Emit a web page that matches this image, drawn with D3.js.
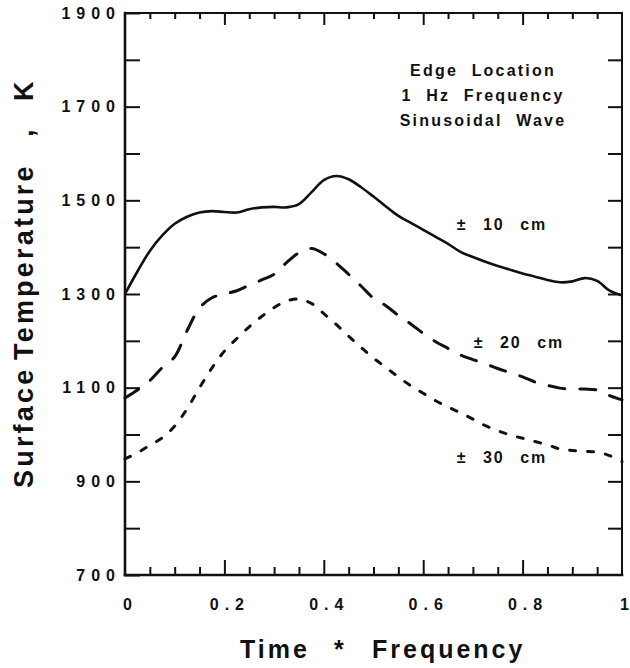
<!DOCTYPE html>
<html>
<head>
<meta charset="utf-8">
<script src="https://cdn.jsdelivr.net/npm/d3@7"></script>
<style>
  body { margin: 0; background: #fff; }
  text { font-family: "Liberation Sans", Arial, Helvetica, sans-serif; font-weight: bold; fill: #111; }
</style>
</head>
<body>
<svg id="chart" width="630" height="668"></svg>
<script>
// Time * Frequency sample points shared by the three curves
const timeFreq = [0, 0.025, 0.05, 0.075, 0.1, 0.125, 0.15, 0.175, 0.2, 0.225,
  0.25, 0.275, 0.3, 0.325, 0.35, 0.375, 0.4, 0.425, 0.45, 0.475,
  0.5, 0.525, 0.55, 0.575, 0.6, 0.625, 0.65, 0.675, 0.7, 0.725,
  0.75, 0.775, 0.8, 0.825, 0.85, 0.875, 0.9, 0.925, 0.95, 0.975, 1.0];

// Surface temperature (K), ±10 cm amplitude
const temp10 = [1300, 1348, 1392, 1425, 1450, 1465, 1474, 1477, 1475, 1474,
  1481, 1485, 1486, 1485, 1492, 1517, 1543, 1552, 1545, 1528,
  1508, 1487, 1467, 1452, 1437, 1422, 1407, 1390, 1379, 1369,
  1360, 1352, 1344, 1337, 1330, 1325, 1327, 1334, 1328, 1307, 1297];

// Surface temperature (K), ±20 cm amplitude
const temp20 = [1078, 1095, 1115, 1143, 1166, 1222, 1270, 1292, 1300, 1307,
  1319, 1330, 1342, 1367, 1388, 1397, 1386, 1366, 1342, 1317,
  1291, 1275, 1254, 1236, 1216, 1198, 1184, 1170, 1160, 1151,
  1141, 1132, 1123, 1112, 1105, 1099, 1097, 1097, 1095, 1083, 1074];

// Surface temperature (K), ±30 cm amplitude
const temp30 = [948, 961, 977, 993, 1018, 1055, 1100, 1142, 1178, 1205,
  1230, 1252, 1271, 1285, 1289, 1280, 1258, 1235, 1210, 1186,
  1163, 1143, 1123, 1104, 1088, 1072, 1059, 1046, 1033, 1019,
  1008, 999, 992, 985, 978, 969, 966, 964, 962, 955, 942];

const seriesLabels = ["\u00b1 10 cm", "\u00b1 20 cm", "\u00b1 30 cm"];
const noteLines = ["Edge Location", "1 Hz Frequency", "Sinusoidal Wave"];

const xMajorTicks = [0, 0.2, 0.4, 0.6, 0.8, 1];
const xMinorTicks = [0.05, 0.1, 0.15, 0.25, 0.3, 0.35, 0.45, 0.5, 0.55, 0.65, 0.7, 0.75, 0.85, 0.9, 0.95];
const yTicks = [700, 800, 900, 1000, 1100, 1200, 1300, 1400, 1500, 1600, 1700, 1800, 1900];
const yLabelled = [700, 900, 1100, 1300, 1500, 1700, 1900];

const svg = d3.select("#chart");
const plotLeft = 125, plotRight = 622, plotTop = 13, plotBottom = 575;

const x = d3.scaleLinear().domain([0, 1]).range([plotLeft, plotRight]);
const y = d3.scaleLinear().domain([700, 1900]).range([plotBottom, plotTop]);

const tickLS = 6;

// Left axis: inward ticks every 100 K, labels every 200 K
const gL = svg.append("g").attr("transform", `translate(${plotLeft},0)`)
  .call(d3.axisLeft(y).tickValues(yTicks).tickSize(-15).tickPadding(10)
    .tickFormat(d => yLabelled.includes(d) ? String(d) : ""));
// Right axis: inward ticks only
const gR = svg.append("g").attr("transform", `translate(${plotRight},0)`)
  .call(d3.axisRight(y).tickValues(yTicks.slice(1, -1)).tickSize(-14).tickFormat(""));
// Bottom axis: long major ticks, short minor ticks, and the labels
const gB = svg.append("g").attr("transform", `translate(0,${plotBottom})`)
  .call(d3.axisBottom(x).tickValues(xMajorTicks.slice(1, -1)).tickSize(-15).tickFormat(""));
const gB2 = svg.append("g").attr("transform", `translate(0,${plotBottom})`)
  .call(d3.axisBottom(x).tickValues(xMinorTicks).tickSize(-8).tickFormat(""));
const gBL = svg.append("g").attr("transform", `translate(2,${plotBottom})`)
  .call(d3.axisBottom(x).tickValues(xMajorTicks).tickSize(0).tickPadding(24)
    .tickFormat(d => d === 0 ? "0" : d === 1 ? "1" : d3.format(".1f")(d)));
// Top axis: inward ticks
const gT = svg.append("g").attr("transform", `translate(0,${plotTop})`)
  .call(d3.axisTop(x).tickValues(xMajorTicks.slice(1, -1)).tickSize(-12).tickFormat(""));
const gT2 = svg.append("g").attr("transform", `translate(0,${plotTop})`)
  .call(d3.axisTop(x).tickValues(xMinorTicks).tickSize(-6).tickFormat(""));

[gL, gR, gB, gB2, gBL, gT, gT2].forEach(g => {
  g.select(".domain").remove();
  g.selectAll(".tick line").attr("stroke", "#111").attr("stroke-width", 2);
  g.selectAll(".tick text")
    .style("font-size", "16px")
    .style("letter-spacing", function() { return this.textContent.length > 1 ? tickLS + "px" : "0px"; })
    .attr("fill", "#111");
});
// letter-spacing also trails the last glyph; shift labels so the glyphs sit centred
gBL.selectAll(".tick text").attr("dx", function() { return this.textContent.length > 1 ? tickLS / 2 : 0; });
gL.selectAll(".tick text").attr("dx", tickLS);

// Plot frame
const frame = svg.append("g").attr("stroke", "#111").attr("stroke-linecap", "square");
frame.append("line").attr("x1", plotLeft).attr("y1", plotTop).attr("x2", plotLeft).attr("y2", plotBottom).attr("stroke-width", 2.6);
frame.append("line").attr("x1", plotLeft).attr("y1", plotBottom).attr("x2", plotRight).attr("y2", plotBottom).attr("stroke-width", 2.6);
frame.append("line").attr("x1", plotLeft).attr("y1", plotTop).attr("x2", plotRight).attr("y2", plotTop).attr("stroke-width", 2);
frame.append("line").attr("x1", plotRight).attr("y1", plotTop).attr("x2", plotRight).attr("y2", plotBottom).attr("stroke-width", 2);

// Temperature curves
const line = d3.line()
  .x((d, i) => x(timeFreq[i]))
  .y(d => y(d))
  .curve(d3.curveCatmullRom.alpha(0.5));

const curves = [
  { values: temp10, dash: null, width: 2.6 },
  { values: temp20, dash: "16,15", width: 3 },
  { values: temp30, dash: "6,12", width: 3 }
];
svg.append("g").selectAll("path").data(curves).join("path")
  .attr("d", d => line(d.values))
  .attr("fill", "none")
  .attr("stroke", "#111")
  .attr("stroke-width", d => d.width)
  .attr("stroke-linecap", d => d.dash ? "round" : "butt")
  .attr("stroke-dasharray", d => d.dash);

// Curve labels
const labelPos = [[502, 230], [519, 348], [502, 463]];
svg.append("g").selectAll("text").data(seriesLabels).join("text")
  .attr("x", (d, i) => labelPos[i][0])
  .attr("y", (d, i) => labelPos[i][1])
  .attr("text-anchor", "middle")
  .style("font-size", "16px")
  .style("letter-spacing", "2px")
  .style("word-spacing", "9px")
  .text(d => d);

// Case description
svg.append("g").selectAll("text").data(noteLines).join("text")
  .attr("x", 483)
  .attr("y", (d, i) => 76 + i * 25)
  .attr("text-anchor", "middle")
  .style("font-size", "16px")
  .style("letter-spacing", "2.2px")
  .style("word-spacing", "7px")
  .text(d => d);

// Axis titles
const xt = svg.append("text").attr("y", 658).style("font-size", "25px").style("letter-spacing", "3px");
xt.append("tspan").attr("x", 240).text("Time");
xt.append("tspan").attr("x", 334).text("*");
xt.append("tspan").attr("x", 372).text("Frequency");

const yt = svg.append("text").attr("transform", "rotate(-90)").attr("y", 33)
  .style("font-size", "27px").style("letter-spacing", "3.2px");
yt.append("tspan").attr("x", -488).text("Surface");
yt.append("tspan").attr("x", -360).text("Temperature");
yt.append("tspan").attr("x", -137).text(",");
yt.append("tspan").attr("x", -101).text("K");
</script>
</body>
</html>
